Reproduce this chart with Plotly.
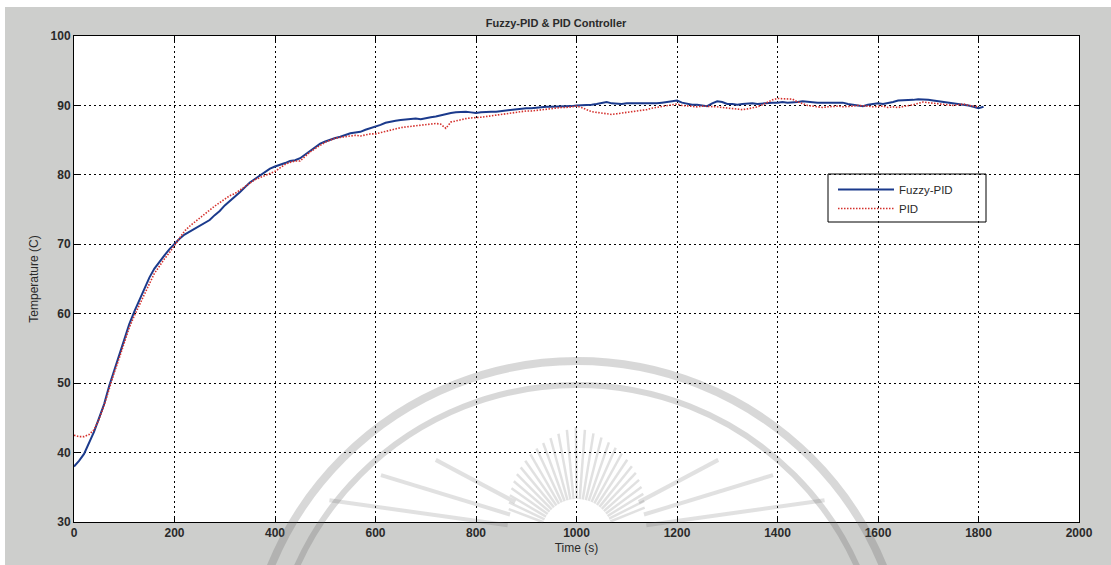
import math
import plotly.graph_objects as go

# Time axis (s), sampled every 10 s
time_s = list(range(0, 1811, 10))

# Fuzzy-PID controller response (deg C)
fuzzy_pid = [
    38.0, 38.8, 39.8, 41.3, 43.0, 45.0, 47.0, 49.6, 51.8, 54.0,
    56.3, 58.5, 60.3, 62.0, 63.6, 65.2, 66.5, 67.5, 68.4, 69.3,
    70.1, 70.8, 71.4, 71.8, 72.2, 72.6, 73.0, 73.5, 74.2, 74.8,
    75.6, 76.2, 76.8, 77.5, 78.2, 78.9, 79.4, 79.9, 80.5, 80.9,
    81.2, 81.4, 81.7, 82.0, 82.1, 82.4, 82.9, 83.5, 84.0, 84.5,
    84.8, 85.1, 85.3, 85.5, 85.8, 86.0, 86.1, 86.2, 86.5, 86.7,
    86.9, 87.2, 87.5, 87.7, 87.8, 87.9, 88.0, 88.0, 88.1, 88.0,
    88.2, 88.3, 88.4, 88.6, 88.8, 88.9, 89.0, 89.1, 89.1, 89.0,
    88.9, 89.0, 89.1, 89.1, 89.1, 89.2, 89.3, 89.4, 89.5, 89.6,
    89.6, 89.6, 89.7, 89.7, 89.8, 89.8, 89.8, 89.8, 89.8, 89.9,
    90.0, 90.0, 90.1, 90.1, 90.2, 90.4, 90.5, 90.3, 90.2, 90.2,
    90.3, 90.3, 90.2, 90.2, 90.2, 90.3, 90.3, 90.4, 90.5, 90.6,
    90.7, 90.4, 90.2, 90.1, 90.1, 90.0, 89.9, 90.3, 90.6, 90.5,
    90.2, 90.2, 90.1, 90.2, 90.3, 90.3, 90.2, 90.3, 90.4, 90.4,
    90.4, 90.5, 90.4, 90.4, 90.5, 90.6, 90.5, 90.4, 90.4, 90.4,
    90.4, 90.3, 90.3, 90.4, 90.2, 90.1, 90.0, 89.9, 90.1, 90.2,
    90.3, 90.2, 90.3, 90.5, 90.7, 90.7, 90.7, 90.8, 90.9, 90.9,
    90.8, 90.7, 90.6, 90.5, 90.4, 90.4, 90.3, 90.2, 90.0, 89.8,
    89.6, 89.8,
]

# Conventional PID controller response (deg C)
pid = [
    42.5, 42.3, 42.3, 42.6, 43.3, 44.8, 46.8, 49.2, 51.5, 53.6,
    55.9, 58.0, 59.7, 61.3, 62.9, 64.3, 65.8, 66.9, 67.9, 68.8,
    69.8, 70.9, 71.9, 72.6, 73.2, 73.8, 74.4, 74.9, 75.5, 76.0,
    76.5, 77.0, 77.3, 77.8, 78.3, 78.9, 79.3, 79.6, 79.9, 80.2,
    80.5, 81.0, 81.5, 81.8, 82.0, 82.0, 82.7, 83.3, 83.8, 84.3,
    84.7, 85.0, 85.3, 85.4, 85.5, 85.6, 85.7, 85.6, 85.8, 85.9,
    85.9, 86.1, 86.3, 86.4, 86.6, 86.8, 86.9, 87.0, 87.1, 87.2,
    87.3, 87.4, 87.4, 87.3, 86.7, 87.6, 87.8, 88.0, 88.1, 88.2,
    88.2, 88.3, 88.4, 88.5, 88.6, 88.8, 88.9, 89.0, 89.0, 89.1,
    89.2, 89.2, 89.3, 89.4, 89.5, 89.6, 89.6, 89.7, 89.7, 89.8,
    89.9, 89.7, 89.4, 89.1, 89.0, 88.9, 88.8, 88.7, 88.8, 88.9,
    89.0, 89.0, 89.1, 89.3, 89.4, 89.6, 89.7, 89.8, 89.9, 90.1,
    90.2, 90.0, 89.9, 89.9, 89.8, 89.9, 89.9, 89.8, 89.8, 89.7,
    89.6, 89.5, 89.5, 89.4, 89.5, 89.6, 89.8, 90.1, 90.5, 90.8,
    91.0, 91.0, 91.0, 90.9, 90.5, 90.2, 90.0, 89.9, 89.8, 89.7,
    89.8, 89.9, 89.9, 89.8, 89.8, 89.9, 90.0, 90.0, 89.9, 89.8,
    89.8, 89.9, 89.7, 89.8, 89.7, 89.8, 89.9, 90.1, 90.3, 90.5,
    90.4, 90.3, 90.2, 90.2, 90.1, 90.0, 90.1, 90.2, 90.0, 89.9,
    89.8,
]

x_ticks = list(range(0, 2001, 200))
y_ticks = list(range(30, 101, 10))

W, H = 1111, 565
ML, MR, MT, MB = 74, 32, 36, 43
PW, PH = W - ML - MR, H - MT - MB


def px(x):
    return (x - ML) / PW


def py(y):
    return (H - MB - y) / PH


fig = go.Figure()
fig.add_trace(go.Scatter(
    x=time_s, y=fuzzy_pid, name="Fuzzy-PID", mode="lines",
    line=dict(color="#1b3a8c", width=2),
))
fig.add_trace(go.Scatter(
    x=time_s[:len(pid)], y=pid, name="PID", mode="lines",
    line=dict(color="#d4302c", width=1.6, dash="1.5px,1.5px"),
))

shapes = []
# white strips along the top and left page edges
shapes.append(dict(type="rect", xref="paper", yref="paper", layer="below",
                   x0=px(-5), x1=px(W + 5), y0=py(7), y1=py(-5),
                   fillcolor="white", line=dict(width=0)))
shapes.append(dict(type="rect", xref="paper", yref="paper", layer="below",
                   x0=px(-5), x1=px(5), y0=py(H + 5), y1=py(-5),
                   fillcolor="white", line=dict(width=0)))

# legend frame
shapes.append(dict(type="rect", xref="paper", yref="paper", layer="between",
                   x0=px(828), x1=px(986), y0=py(222), y1=py(174),
                   fillcolor="white", line=dict(color="black", width=1)))

# faint seal printed across the lower half of the page
seal = "rgba(90,90,90,0.24)"
cx, cy = 577, 692
for r, w in ((331, 8), (307, 6)):
    shapes.append(dict(type="circle", xref="paper", yref="paper", layer="above",
                       x0=px(cx - r), x1=px(cx + r), y0=py(cy + r), y1=py(cy - r),
                       line=dict(color=seal, width=w)))
sx, sy = 577, 535
for k in range(29):
    ang = math.radians(22 + k * 4.9)
    r0 = 36
    r1 = 108 - abs(k - 14) * 2.5
    shapes.append(dict(type="line", xref="paper", yref="paper", layer="above",
                       x0=px(sx + r0 * math.cos(ang)), y0=py(sy - r0 * math.sin(ang)),
                       x1=px(sx + r1 * math.cos(ang)), y1=py(sy - r1 * math.sin(ang)),
                       line=dict(color="rgba(90,90,90,0.18)", width=2.5)))
for side in (-1, 1):
    for ang_d, r1 in ((8, 250), (17, 205), (28, 160)):
        ang = math.radians(ang_d)
        shapes.append(dict(type="line", xref="paper", yref="paper", layer="above",
                           x0=px(sx + side * 70 * math.cos(ang)), y0=py(sy - 70 * math.sin(ang)),
                           x1=px(sx + side * r1 * math.cos(ang)), y1=py(sy - r1 * math.sin(ang)),
                           line=dict(color="rgba(90,90,90,0.18)", width=4)))

axis_common = dict(
    showline=True, linecolor="black", linewidth=1, mirror="ticks",
    ticks="inside", ticklen=5, tickcolor="black",
    showgrid=True, gridcolor="black", gridwidth=1, griddash="2px,3px",
    zeroline=False,
    tickfont=dict(family="Liberation Sans, Arial", size=12, color="#2a2a2a", weight="bold"),
)

fig.update_layout(
    width=W, height=H,
    margin=dict(l=ML, r=MR, t=MT, b=MB),
    paper_bgcolor="#cdcecc",
    plot_bgcolor="white",
    font=dict(family="Liberation Sans, Arial", size=11, color="#2a2a2a"),
    title=dict(text="Fuzzy-PID & PID Controller", x=px(577), xanchor="center",
               y=1 - 23 / H, yanchor="middle",
               font=dict(size=11, color="#2a2a2a", weight="bold")),
    xaxis=dict(range=[0, 2000], tickvals=x_ticks,
               title=dict(text="Time (s)", standoff=4, font=dict(size=12)),
               **axis_common),
    yaxis=dict(range=[30, 100], tickvals=y_ticks,
               title=dict(text="Temperature (C)", standoff=9, font=dict(size=12)),
               **axis_common),
    legend=dict(x=px(833), y=py(175), xanchor="left", yanchor="top",
                bgcolor="rgba(0,0,0,0)", borderwidth=0,
                itemwidth=56, font=dict(size=11.5, color="#2a2a2a"),
                tracegroupgap=0),
    showlegend=True,
    shapes=shapes,
)

fig.write_html("out.html")
